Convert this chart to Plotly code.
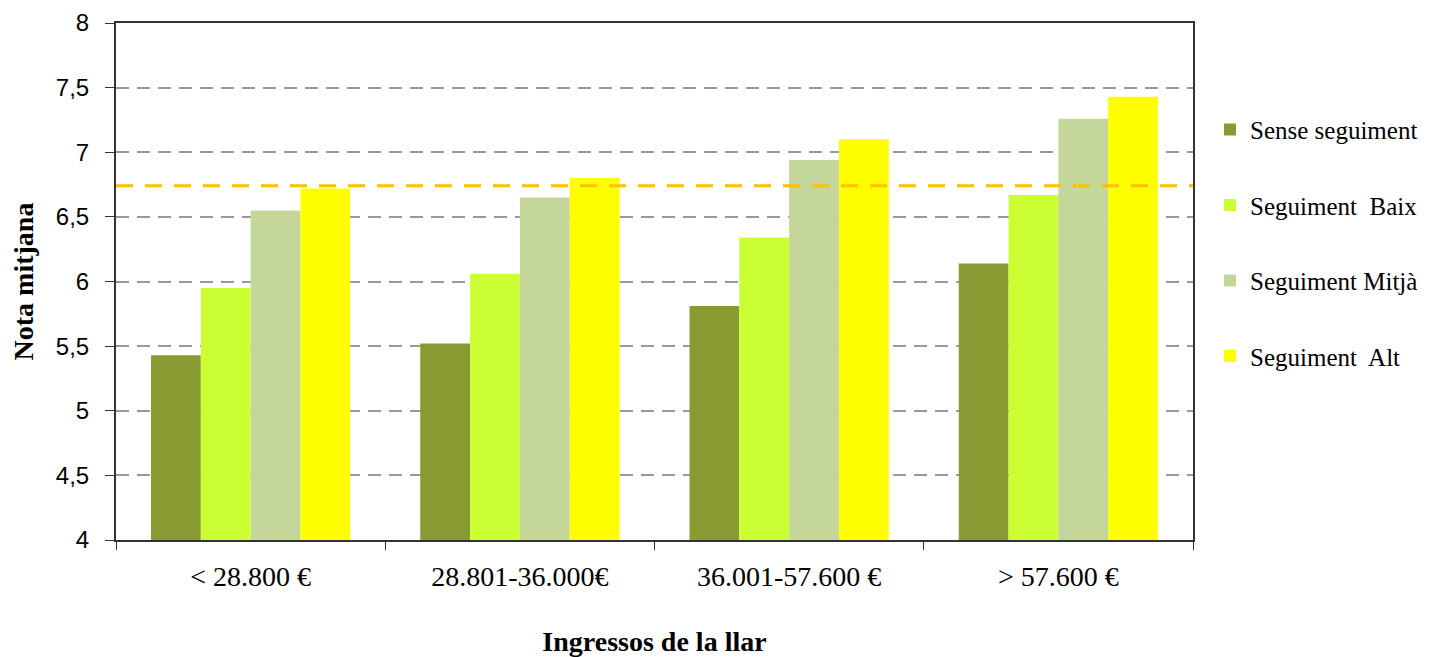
import plotly.graph_objects as go

categories = ["< 28.800 €", "28.801-36.000€", "36.001-57.600 €", "> 57.600 €"]
series_names = ["Sense seguiment", "Seguiment  Baix", "Seguiment Mitjà", "Seguiment  Alt"]
sense = [5.43, 5.52, 5.81, 6.14]
baix = [5.95, 6.06, 6.34, 6.67]
mitja = [6.55, 6.65, 6.94, 7.26]
alt = [6.72, 6.80, 7.10, 7.43]
mean_line = 6.74
colors = ["#889B30", "#CCFF33", "#C4D79B", "#FFFF00"]

serif = "Liberation Serif, Times New Roman, serif"
sans = "Liberation Sans, Arial, sans-serif"

fig = go.Figure()
for name, vals, col in zip(series_names, [sense, baix, mitja, alt], colors):
    fig.add_trace(go.Bar(
        x=categories, y=vals, name=name, marker_color=col,
        marker_line_width=0, legendgroup=name,
    ))

fig.add_shape(type="line", xref="paper", yref="y", x0=0, x1=1,
              y0=mean_line, y1=mean_line,
              line=dict(color="#FFC000", width=3, dash="17px,12px"))

fig.update_layout(
    width=1421, height=649,
    margin=dict(l=108, r=236, t=15, b=117, autoexpand=False),
    plot_bgcolor="white", paper_bgcolor="white",
    barmode="group", bargap=0.26, bargroupgap=0,
    separators=",.",
    font=dict(family=serif, size=27, color="black"),
    legend=dict(x=1.0158, y=0.838, xanchor="left", yanchor="top",
                font=dict(family=serif, size=25),
                tracegroupgap=40, itemwidth=30),
    xaxis=dict(
        showline=True, linecolor="#333", linewidth=2, mirror=True,
        ticks="outside", tickson="boundaries", ticklen=8, tickcolor="#333",
        tickfont=dict(family=serif, size=28), ticklabelstandoff=10,
        title=dict(text="<b>Ingressos de la llar</b>", font=dict(family=serif, size=28), standoff=46),
    ),
    yaxis=dict(
        range=[4, 8], dtick=0.5, tick0=4,
        showline=True, linecolor="#333", linewidth=2, mirror=True,
        ticks="outside", ticklen=9, tickcolor="#333",
        showgrid=True, gridcolor="#999", gridwidth=2, griddash="13px,8px",
        tickfont=dict(family=sans, size=24), ticklabelstandoff=11,
        title=dict(text="<b>Nota mitjana</b>", font=dict(family=serif, size=28), standoff=14),
    ),
)

fig.write_html("out.html")
